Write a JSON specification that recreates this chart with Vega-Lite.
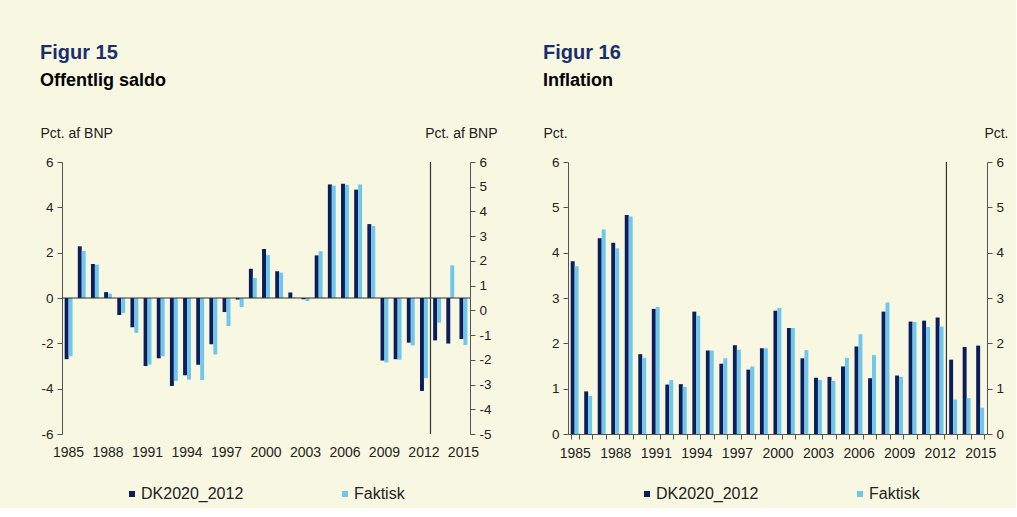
{
  "$schema": "https://vega.github.io/schema/vega-lite/v6.json",
  "background": "#F8F7E1",
  "padding": {"left": 40, "top": 43, "right": 8, "bottom": 6},
  "config": {
    "font": "Liberation Sans",
    "view": {"stroke": null},
    "axis": {"labelFont": "Liberation Sans", "labelFontSize": 13.5, "labelColor": "#222", "domainColor": "#555", "tickColor": "#555", "grid": false, "titleFont": "Liberation Sans", "titleFontWeight": "normal", "titleFontSize": 14, "titleColor": "#222", "tickSize": 5, "labelPadding": 4},
    "legend": {"labelFont": "Liberation Sans", "labelFontSize": 16, "labelColor": "#222", "symbolType": "square", "symbolSize": 36, "symbolStrokeWidth": 0, "columnPadding": 93, "labelOffset": 1},
    "title": {"anchor": "start", "font": "Liberation Sans", "fontSize": 20, "fontWeight": "bold", "color": "#1A2E6C", "subtitleFont": "Liberation Sans", "subtitleFontSize": 18, "subtitleFontWeight": "bold", "subtitleColor": "#000", "subtitlePadding": 9, "offset": 36}
  },
  "datasets": {
    "saldo": [
      {"year": 1985, "series": "DK2020_2012", "value": -2.7}, {"year": 1985, "series": "Faktisk", "value": -2.57},
      {"year": 1986, "series": "DK2020_2012", "value": 2.28}, {"year": 1986, "series": "Faktisk", "value": 2.07},
      {"year": 1987, "series": "DK2020_2012", "value": 1.5}, {"year": 1987, "series": "Faktisk", "value": 1.47},
      {"year": 1988, "series": "DK2020_2012", "value": 0.26}, {"year": 1988, "series": "Faktisk", "value": 0.19},
      {"year": 1989, "series": "DK2020_2012", "value": -0.75}, {"year": 1989, "series": "Faktisk", "value": -0.66},
      {"year": 1990, "series": "DK2020_2012", "value": -1.29}, {"year": 1990, "series": "Faktisk", "value": -1.54},
      {"year": 1991, "series": "DK2020_2012", "value": -3.0}, {"year": 1991, "series": "Faktisk", "value": -2.94},
      {"year": 1992, "series": "DK2020_2012", "value": -2.66}, {"year": 1992, "series": "Faktisk", "value": -2.57},
      {"year": 1993, "series": "DK2020_2012", "value": -3.88}, {"year": 1993, "series": "Faktisk", "value": -3.66},
      {"year": 1994, "series": "DK2020_2012", "value": -3.41}, {"year": 1994, "series": "Faktisk", "value": -3.6},
      {"year": 1995, "series": "DK2020_2012", "value": -2.94}, {"year": 1995, "series": "Faktisk", "value": -3.62},
      {"year": 1996, "series": "DK2020_2012", "value": -2.04}, {"year": 1996, "series": "Faktisk", "value": -2.49},
      {"year": 1997, "series": "DK2020_2012", "value": -0.62}, {"year": 1997, "series": "Faktisk", "value": -1.24},
      {"year": 1998, "series": "DK2020_2012", "value": -0.07}, {"year": 1998, "series": "Faktisk", "value": -0.4},
      {"year": 1999, "series": "DK2020_2012", "value": 1.29}, {"year": 1999, "series": "Faktisk", "value": 0.88},
      {"year": 2000, "series": "DK2020_2012", "value": 2.16}, {"year": 2000, "series": "Faktisk", "value": 1.9},
      {"year": 2001, "series": "DK2020_2012", "value": 1.18}, {"year": 2001, "series": "Faktisk", "value": 1.12},
      {"year": 2002, "series": "DK2020_2012", "value": 0.24}, {"year": 2002, "series": "Faktisk", "value": 0.02},
      {"year": 2003, "series": "DK2020_2012", "value": -0.06}, {"year": 2003, "series": "Faktisk", "value": -0.13},
      {"year": 2004, "series": "DK2020_2012", "value": 1.88}, {"year": 2004, "series": "Faktisk", "value": 2.06},
      {"year": 2005, "series": "DK2020_2012", "value": 5.01}, {"year": 2005, "series": "Faktisk", "value": 4.96},
      {"year": 2006, "series": "DK2020_2012", "value": 5.04}, {"year": 2006, "series": "Faktisk", "value": 4.99},
      {"year": 2007, "series": "DK2020_2012", "value": 4.78}, {"year": 2007, "series": "Faktisk", "value": 5.01},
      {"year": 2008, "series": "DK2020_2012", "value": 3.26}, {"year": 2008, "series": "Faktisk", "value": 3.18},
      {"year": 2009, "series": "DK2020_2012", "value": -2.76}, {"year": 2009, "series": "Faktisk", "value": -2.84},
      {"year": 2010, "series": "DK2020_2012", "value": -2.7}, {"year": 2010, "series": "Faktisk", "value": -2.72},
      {"year": 2011, "series": "DK2020_2012", "value": -1.97}, {"year": 2011, "series": "Faktisk", "value": -2.09},
      {"year": 2012, "series": "DK2020_2012", "value": -4.1}, {"year": 2012, "series": "Faktisk", "value": -3.54},
      {"year": 2013, "series": "DK2020_2012", "value": -1.87}, {"year": 2013, "series": "Faktisk", "value": -1.09},
      {"year": 2014, "series": "DK2020_2012", "value": -2.01}, {"year": 2014, "series": "Faktisk", "value": 1.44},
      {"year": 2015, "series": "DK2020_2012", "value": -1.81}, {"year": 2015, "series": "Faktisk", "value": -2.07}
    ],
    "inflation": [
      {"year": 1985, "series": "DK2020_2012", "value": 3.81}, {"year": 1985, "series": "Faktisk", "value": 3.7},
      {"year": 1986, "series": "DK2020_2012", "value": 0.94}, {"year": 1986, "series": "Faktisk", "value": 0.84},
      {"year": 1987, "series": "DK2020_2012", "value": 4.32}, {"year": 1987, "series": "Faktisk", "value": 4.51},
      {"year": 1988, "series": "DK2020_2012", "value": 4.22}, {"year": 1988, "series": "Faktisk", "value": 4.1},
      {"year": 1989, "series": "DK2020_2012", "value": 4.83}, {"year": 1989, "series": "Faktisk", "value": 4.8},
      {"year": 1990, "series": "DK2020_2012", "value": 1.76}, {"year": 1990, "series": "Faktisk", "value": 1.68},
      {"year": 1991, "series": "DK2020_2012", "value": 2.76}, {"year": 1991, "series": "Faktisk", "value": 2.8},
      {"year": 1992, "series": "DK2020_2012", "value": 1.09}, {"year": 1992, "series": "Faktisk", "value": 1.19},
      {"year": 1993, "series": "DK2020_2012", "value": 1.1}, {"year": 1993, "series": "Faktisk", "value": 1.04},
      {"year": 1994, "series": "DK2020_2012", "value": 2.7}, {"year": 1994, "series": "Faktisk", "value": 2.61},
      {"year": 1995, "series": "DK2020_2012", "value": 1.84}, {"year": 1995, "series": "Faktisk", "value": 1.84},
      {"year": 1996, "series": "DK2020_2012", "value": 1.55}, {"year": 1996, "series": "Faktisk", "value": 1.67},
      {"year": 1997, "series": "DK2020_2012", "value": 1.96}, {"year": 1997, "series": "Faktisk", "value": 1.86},
      {"year": 1998, "series": "DK2020_2012", "value": 1.42}, {"year": 1998, "series": "Faktisk", "value": 1.49},
      {"year": 1999, "series": "DK2020_2012", "value": 1.89}, {"year": 1999, "series": "Faktisk", "value": 1.89},
      {"year": 2000, "series": "DK2020_2012", "value": 2.72}, {"year": 2000, "series": "Faktisk", "value": 2.78},
      {"year": 2001, "series": "DK2020_2012", "value": 2.34}, {"year": 2001, "series": "Faktisk", "value": 2.34},
      {"year": 2002, "series": "DK2020_2012", "value": 1.67}, {"year": 2002, "series": "Faktisk", "value": 1.85},
      {"year": 2003, "series": "DK2020_2012", "value": 1.24}, {"year": 2003, "series": "Faktisk", "value": 1.19},
      {"year": 2004, "series": "DK2020_2012", "value": 1.26}, {"year": 2004, "series": "Faktisk", "value": 1.17},
      {"year": 2005, "series": "DK2020_2012", "value": 1.49}, {"year": 2005, "series": "Faktisk", "value": 1.68},
      {"year": 2006, "series": "DK2020_2012", "value": 1.93}, {"year": 2006, "series": "Faktisk", "value": 2.2},
      {"year": 2007, "series": "DK2020_2012", "value": 1.23}, {"year": 2007, "series": "Faktisk", "value": 1.74},
      {"year": 2008, "series": "DK2020_2012", "value": 2.7}, {"year": 2008, "series": "Faktisk", "value": 2.9},
      {"year": 2009, "series": "DK2020_2012", "value": 1.29}, {"year": 2009, "series": "Faktisk", "value": 1.26},
      {"year": 2010, "series": "DK2020_2012", "value": 2.48}, {"year": 2010, "series": "Faktisk", "value": 2.47},
      {"year": 2011, "series": "DK2020_2012", "value": 2.5}, {"year": 2011, "series": "Faktisk", "value": 2.36},
      {"year": 2012, "series": "DK2020_2012", "value": 2.57}, {"year": 2012, "series": "Faktisk", "value": 2.37},
      {"year": 2013, "series": "DK2020_2012", "value": 1.64}, {"year": 2013, "series": "Faktisk", "value": 0.76},
      {"year": 2014, "series": "DK2020_2012", "value": 1.92}, {"year": 2014, "series": "Faktisk", "value": 0.79},
      {"year": 2015, "series": "DK2020_2012", "value": 1.95}, {"year": 2015, "series": "Faktisk", "value": 0.58}
    ]
  },
  "spacing": 46,
  "resolve": {"scale": {"color": "independent"}, "legend": {"color": "independent"}},
  "hconcat": [
    {
      "width": 408,
      "height": 272,
      "title": {"text": "Figur 15", "subtitle": "Offentlig saldo"},
      "data": {"name": "saldo"},
      "resolve": {"scale": {"y": "independent"}},
      "layer": [
        {
          "layer": [
            {
              "mark": {"type": "bar"},
              "encoding": {
                "x": {"field": "year", "type": "ordinal", "scale": {"paddingInner": 0.4, "paddingOuter": 0.2},
                      "axis": {"title": null, "labelAngle": 0, "ticks": false, "domain": false, "labelPadding": 11, "labelFontSize": 14,
                               "labelExpr": "(datum.value - 1985) % 3 == 0 ? datum.label : ''"}},
                "xOffset": {"field": "series", "sort": ["DK2020_2012", "Faktisk"]},
                "y": {"field": "value", "type": "quantitative", "scale": {"domain": [-6, 6], "nice": false},
                      "axis": {"values": [-6, -4, -2, 0, 2, 4, 6], "labelExpr": "'' + datum.value", "title": "Pct. af BNP", "titleAngle": 0, "titleAlign": "left", "titleBaseline": "middle", "titleX": -22, "titleY": -29}},
                "color": {"field": "series", "type": "nominal", "sort": ["DK2020_2012", "Faktisk"],
                          "scale": {"domain": ["DK2020_2012", "Faktisk"], "range": ["#0B1D5B", "#6FC8EC"]},
                          "legend": {"title": null, "orient": "none", "direction": "horizontal", "legendX": 62, "legendY": 324}}
              }
            },
            {"data": {"values": [{}]}, "mark": {"type": "rule", "color": "#333", "strokeWidth": 1}, "encoding": {"y": {"datum": 0}}},
            {"data": {"values": [{}]}, "mark": {"type": "rule", "color": "#333", "strokeWidth": 1.2}, "encoding": {"x": {"datum": 2012, "type": "ordinal", "bandPosition": 1.33}}}
          ]
        },
        {
          "mark": {"type": "point", "opacity": 0},
          "encoding": {
            "y": {"field": "value", "type": "quantitative", "scale": {"domain": [-5, 6], "nice": false},
                  "axis": {"orient": "right", "values": [-5, -4, -3, -2, -1, 0, 1, 2, 3, 4, 5, 6], "labelExpr": "'' + datum.value", "title": "Pct. af BNP", "titleAngle": 0, "titleAlign": "right", "titleBaseline": "middle", "titleX": 27, "titleY": -29}}
          }
        }
      ]
    },
    {
      "width": 419,
      "height": 272,
      "title": {"text": "Figur 16", "subtitle": "Inflation"},
      "data": {"name": "inflation"},
      "resolve": {"scale": {"y": "independent"}},
      "layer": [
        {
          "layer": [
            {
              "mark": {"type": "bar"},
              "encoding": {
                "x": {"field": "year", "type": "ordinal", "scale": {"paddingInner": 0.4, "paddingOuter": 0.2},
                      "axis": {"title": null, "labelAngle": 0, "tickBand": "extent", "labelPadding": 7, "labelFontSize": 14,
                               "labelExpr": "(datum.value - 1985) % 3 == 0 ? datum.label : ''"}},
                "xOffset": {"field": "series", "sort": ["DK2020_2012", "Faktisk"]},
                "y": {"field": "value", "type": "quantitative", "scale": {"domain": [0, 6], "nice": false},
                      "axis": {"values": [0, 1, 2, 3, 4, 5, 6], "title": "Pct.", "titleAngle": 0, "titleAlign": "left", "titleBaseline": "middle", "titleX": -25, "titleY": -29}},
                "color": {"field": "series", "type": "nominal", "sort": ["DK2020_2012", "Faktisk"],
                          "scale": {"domain": ["DK2020_2012", "Faktisk"], "range": ["#0B1D5B", "#6FC8EC"]},
                          "legend": {"title": null, "orient": "none", "direction": "horizontal", "legendX": 71, "legendY": 324}}
              }
            },
            {"data": {"values": [{}]}, "mark": {"type": "rule", "color": "#333", "strokeWidth": 1.2}, "encoding": {"x": {"datum": 2012, "type": "ordinal", "bandPosition": 1.33}}}
          ]
        },
        {
          "mark": {"type": "point", "opacity": 0},
          "encoding": {
            "y": {"field": "value", "type": "quantitative", "scale": {"domain": [0, 6], "nice": false},
                  "axis": {"orient": "right", "values": [0, 1, 2, 3, 4, 5, 6], "title": "Pct.", "titleAngle": 0, "titleAlign": "right", "titleBaseline": "middle", "titleX": 21, "titleY": -29}}
          }
        }
      ]
    }
  ]
}
